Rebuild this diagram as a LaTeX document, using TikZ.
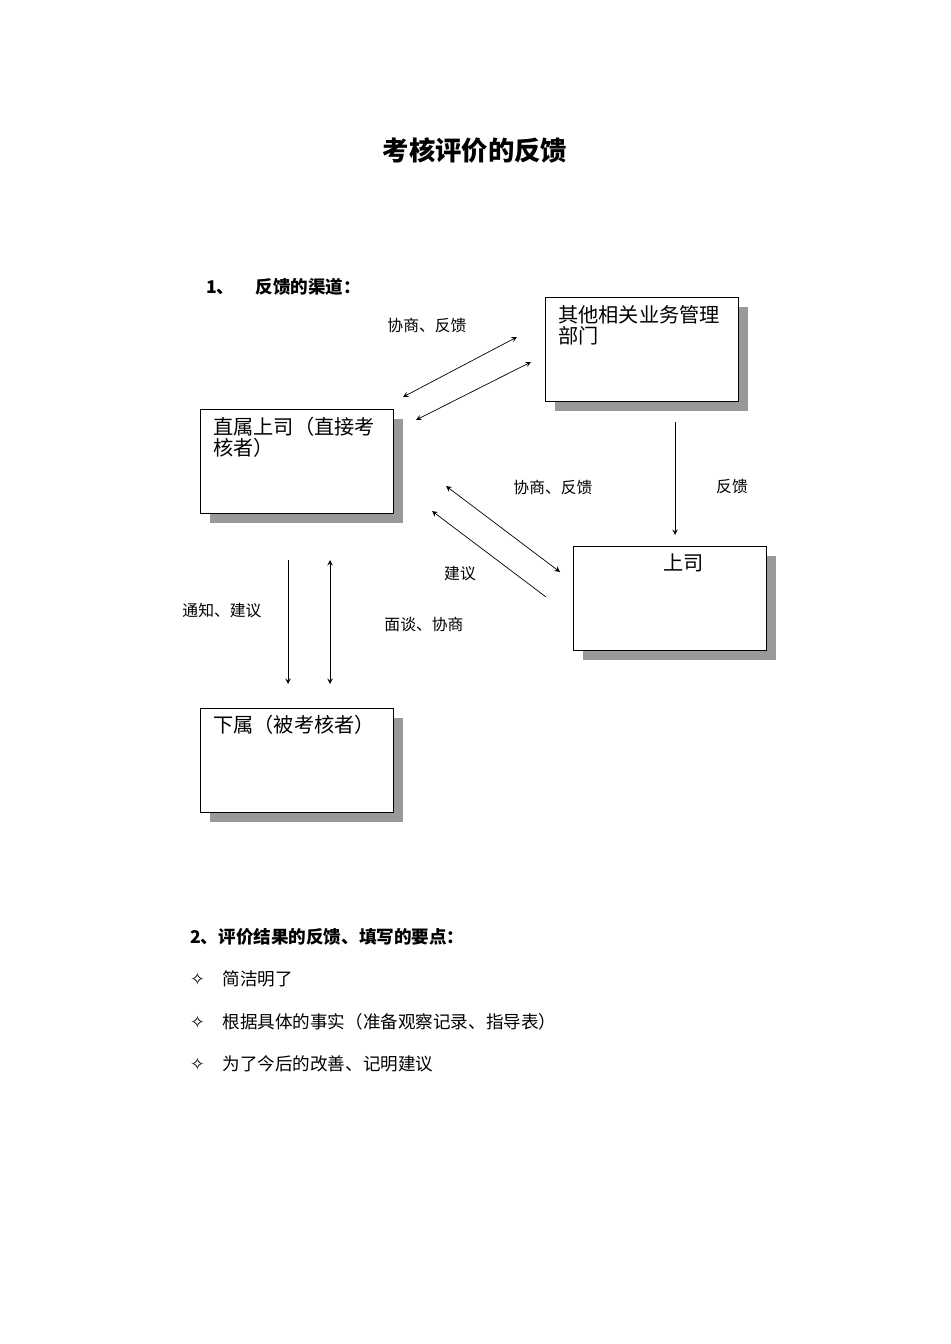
\documentclass[tikz,border=0pt]{standalone}
\usepackage{fontspec}
\newfontfamily\cjk{Noto Sans CJK SC}
\newfontfamily\symf{DejaVu Sans}
\usetikzlibrary{positioning}
\tikzset{box/.style={draw,fill=white,minimum width=3.86cm,minimum height=2.08cm,inner sep=0pt},
  shade/.style={fill=gray!80,minimum width=3.86cm,minimum height=2.08cm,inner sep=0pt},
  lbl/.style={font=\cjk\fontsize{9}{11}\selectfont},
  btxt/.style={font=\cjk\fontsize{11.5}{12}\selectfont,align=left,anchor=north west,inner sep=0pt}}
\newcommand{\starmark}{{\symf ✧}}
\begin{document}
\begin{tikzpicture}[x=0.02cm,y=-0.02cm,>=stealth]
        \useasboundingbox (0,0) rectangle (950,1344);
        \node[font=\cjk\bfseries\fontsize{15}{18}\selectfont] (title) at (475,150) {考核评价的反馈};
        \node[font=\cjk\bfseries\fontsize{10}{12}\selectfont,anchor=west] (h1) at (200,287) {1、\hspace{1.2em}反馈的渠道：};

        \node[shade,anchor=north west] (ds) at (555,307) {};
        \node[box,anchor=north west] (dept) at (545,297) {};
        \node[btxt] (deptt) at (558,305) {其他相关业务管理\\部门};
        \node[shade,anchor=north west] (ms) at (210,419) {};
        \node[box,anchor=north west] (mgr) at (200,409) {};
        \node[btxt] (mgrt) at (213,417) {直属上司（直接考\\核者）};
        \node[shade,anchor=north west] (bs) at (583,556) {};
        \node[box,anchor=north west] (boss) at (573,546) {};
        \node[btxt] (bosst) at (663,553) {上司};
        \node[shade,anchor=north west] (ss) at (210,718) {};
        \node[box,anchor=north west] (sub) at (200,708) {};
        \node[btxt] (subt) at (213,715) {下属（被考核者）};

        \coordinate (a1) at (403,397); \coordinate (a2) at (517,337);
        \coordinate (b1) at (416,420); \coordinate (b2) at (531,362);
        \coordinate (c1) at (675,422); \coordinate (c2) at (675,535);
        \coordinate (d1) at (446,486); \coordinate (d2) at (560,572);
        \coordinate (e1) at (546,597); \coordinate (e2) at (432,511);
        \coordinate (f1) at (288,560); \coordinate (f2) at (288,684);
        \coordinate (g1) at (330,560); \coordinate (g2) at (330,684);

        \draw [<->] (a1) -- (a2);
        \draw [<->] (b1) -- (b2);
        \draw [->] (c1) -- (c2);
        \draw [<->] (d1) -- (d2);
        \draw [->] (e1) -- (e2);
        \draw [->] (f1) -- (f2);
        \draw [<->] (g1) -- (g2);

        \node[lbl] (l1) at (427,325) {协商、反馈};
        \node[lbl] (l2) at (553,487) {协商、反馈};
        \node[lbl] (l3) at (732,487) {反馈};
        \node[lbl] (l4) at (460,574) {建议};
        \node[lbl] (l5) at (222,611) {通知、建议};
        \node[lbl] (l6) at (424,624) {面谈、协商};

        \node[font=\cjk\bfseries\fontsize{10}{12}\selectfont,anchor=west] (h2) at (184,937) {2、评价结果的反馈、填写的要点：};
        \node[font=\cjk\fontsize{10}{12}\selectfont,anchor=west] (p1) at (184,979) {\starmark\hspace{1em}简洁明了};
        \node[font=\cjk\fontsize{10}{12}\selectfont,anchor=west] (p2) at (184,1022) {\starmark\hspace{1em}根据具体的事实（准备观察记录、指导表）};
        \node[font=\cjk\fontsize{10}{12}\selectfont,anchor=west] (p3) at (184,1064) {\starmark\hspace{1em}为了今后的改善、记明建议};
    \end{tikzpicture}
\end{document}
